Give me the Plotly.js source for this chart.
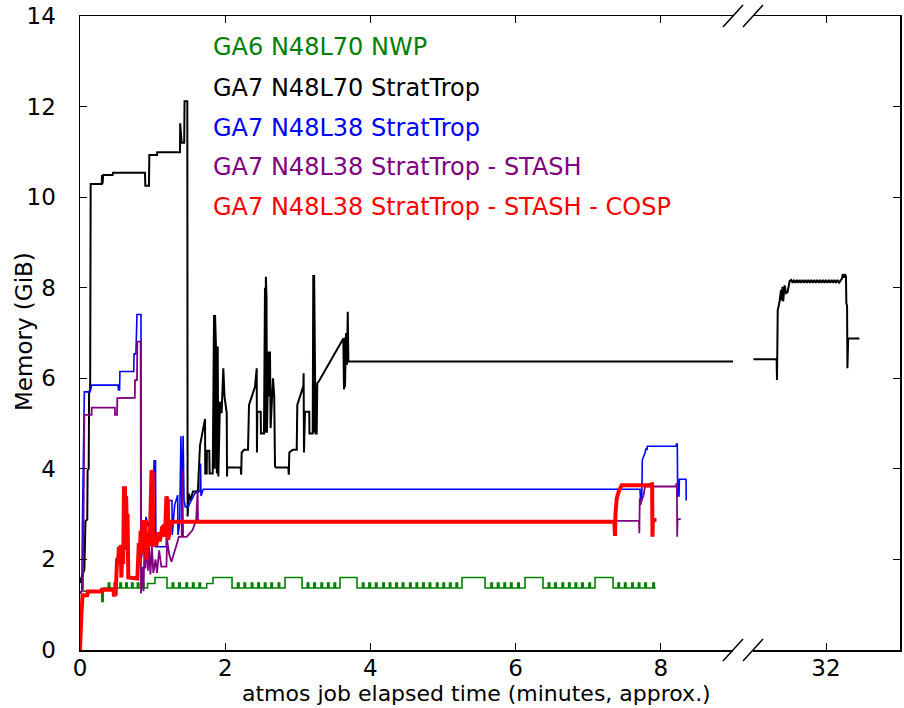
<!DOCTYPE html>
<html>
<head>
<meta charset="utf-8">
<script src="https://cdn.plot.ly/plotly-3.0.1.min.js"></script>
<style>html,body{margin:0;padding:0;background:#fff;}#chart{width:904px;height:708px;}</style>
</head>
<body>
<div id="chart"></div>
<script>
// ---- Data ----
const SERIES_NAMES = ["GA6 N48L70 NWP", "GA7 N48L70 StratTrop", "GA7 N48L38 StratTrop",
  "GA7 N48L38 StratTrop - STASH", "GA7 N48L38 StratTrop - STASH - COSP"];
const SERIES_COLORS = ["#008000", "#000000", "#0000ff", "#800080", "#ff0000"];

const X_TICKS_LEFT = [0, 2, 4, 6, 8];
const X_TICKS_RIGHT = [32];
const Y_TICKS = [0, 2, 4, 6, 8, 10, 12, 14];

// GA6 N48L70 NWP (stepped)
const GREEN_T = [
  0.04, 0.30, 0.32,
  0.39, 0.41, 0.47, 0.49, 0.55, 0.57, 0.63, 0.65, 0.71, 0.73, 0.79, 0.81, 0.86, 0.88,
  0.93, 1.033, 1.198,
  1.27, 1.29, 1.36, 1.38, 1.46, 1.48, 1.55, 1.57, 1.64, 1.66,
  1.745, 1.832, 2.094,
  2.17, 2.19, 2.26, 2.28, 2.36, 2.38, 2.45, 2.47, 2.54, 2.56, 2.63, 2.65, 2.73, 2.75,
  2.824, 3.058,
  3.13, 3.15, 3.22, 3.24, 3.32, 3.34, 3.41, 3.43, 3.50, 3.52,
  3.581, 3.815,
  3.89, 3.91, 3.98, 4.00, 4.07, 4.09, 4.17, 4.19, 4.26, 4.28, 4.35, 4.37, 4.44, 4.46, 4.54, 4.56,
  4.63, 4.65, 4.72, 4.74, 4.81, 4.83, 4.91, 4.93, 5.00, 5.02, 5.09, 5.11, 5.18, 5.20,
  5.262, 5.579,
  5.66, 5.68, 5.75, 5.77, 5.84, 5.86, 5.93, 5.95, 6.03, 6.05,
  6.129, 6.377,
  6.45, 6.47, 6.54, 6.56, 6.64, 6.66, 6.73, 6.75, 6.82, 6.84, 6.91, 6.93, 7.01, 7.03,
  7.094, 7.342,
  7.41, 7.43, 7.50, 7.52, 7.60, 7.62, 7.69, 7.71, 7.78, 7.80, 7.89, 7.91,
  7.93];
const GREEN_Y = [
  1.30, 1.07, 1.37,
  1.48, 1.37, 1.48, 1.37, 1.48, 1.37, 1.48, 1.37, 1.48, 1.37, 1.48, 1.37, 1.48, 1.37,
  1.47, 1.60, 1.37,
  1.48, 1.37, 1.48, 1.37, 1.48, 1.37, 1.48, 1.37, 1.48, 1.37,
  1.47, 1.60, 1.37,
  1.48, 1.37, 1.48, 1.37, 1.48, 1.37, 1.48, 1.37, 1.48, 1.37, 1.48, 1.37, 1.48, 1.37,
  1.60, 1.37,
  1.48, 1.37, 1.48, 1.37, 1.48, 1.37, 1.48, 1.37, 1.48, 1.37,
  1.60, 1.37,
  1.48, 1.37, 1.48, 1.37, 1.48, 1.37, 1.48, 1.37, 1.48, 1.37, 1.48, 1.37, 1.48, 1.37, 1.48, 1.37,
  1.48, 1.37, 1.48, 1.37, 1.48, 1.37, 1.48, 1.37, 1.48, 1.37, 1.48, 1.37, 1.48, 1.37,
  1.60, 1.37,
  1.48, 1.37, 1.48, 1.37, 1.48, 1.37, 1.48, 1.37, 1.48, 1.37,
  1.60, 1.37,
  1.48, 1.37, 1.48, 1.37, 1.48, 1.37, 1.48, 1.37, 1.48, 1.37, 1.48, 1.37, 1.48, 1.37,
  1.60, 1.37,
  1.48, 1.37, 1.48, 1.37, 1.48, 1.37, 1.48, 1.37, 1.48, 1.37, 1.48, 1.37,
  1.37];

// GA7 N48L70 StratTrop, first part (minutes 0-9)
const BLACK_T = [0.00, 0.02, 0.06, 0.075, 0.10, 0.105, 0.12, 0.125, 0.14, 0.147,
  0.30, 0.302, 0.31, 0.32, 0.45, 0.455, 0.895, 0.90, 0.95, 0.955,
  1.06, 1.065, 1.377, 1.38, 1.40, 1.435, 1.44, 1.478, 1.482, 1.50,
  1.52, 1.556, 1.62, 1.625, 1.653, 1.698, 1.722, 1.725, 1.745, 1.748,
  1.781, 1.785, 1.828, 1.846, 1.855, 1.86, 1.873, 1.885, 1.897, 1.905,
  1.928, 1.95, 1.974, 1.99, 2.021, 2.025, 2.029, 2.213, 2.22, 2.227,
  2.259, 2.314, 2.328, 2.41, 2.434, 2.437, 2.442, 2.489, 2.492, 2.534,
  2.548, 2.555, 2.56, 2.569, 2.575, 2.594, 2.60, 2.617, 2.625, 2.64,
  2.658, 2.675, 2.686, 2.70, 2.869, 2.876, 2.883, 2.93, 2.985, 2.993,
  3.076, 3.08, 3.085, 3.099, 3.158, 3.16, 3.205, 3.213, 3.22, 3.225,
  3.237, 3.245, 3.26, 3.268, 3.296, 3.627, 3.636, 3.645, 3.65, 3.664,
  3.678, 3.688, 3.696, 9.02];
const BLACK_Y = [1.48, 1.60, 1.77, 2.85, 2.88, 3.97, 4.00, 5.70, 5.75, 10.29,
  10.29, 10.49, 10.30, 10.49, 10.49, 10.54, 10.54, 10.25, 10.25, 10.93,
  10.93, 10.99, 10.99, 11.63, 11.20, 11.20, 12.12, 12.12, 2.95, 3.45,
  3.30, 3.50, 3.50, 3.55, 4.52, 4.90, 5.10, 3.90, 3.90, 4.40,
  4.40, 3.90, 3.90, 7.40, 4.00, 7.40, 6.70, 3.90, 6.70, 3.83,
  5.48, 5.23, 6.22, 5.60, 5.23, 3.83, 4.03, 4.03, 3.87, 4.36,
  4.42, 4.42, 5.41, 5.81, 6.22, 4.36, 5.26, 5.26, 4.78, 4.78,
  8.00, 4.80, 8.24, 7.80, 4.80, 6.59, 5.60, 6.59, 4.90, 5.59,
  6.00, 5.60, 4.05, 4.03, 4.03, 3.87, 4.36, 4.42, 4.42, 5.41,
  5.83, 6.11, 4.36, 5.26, 5.26, 4.78, 4.78, 8.28, 4.80, 8.28,
  6.50, 4.78, 4.78, 5.89, 5.95, 6.88, 5.75, 6.90, 5.80, 7.00,
  6.30, 7.47, 6.37, 6.37];

// GA7 N48L70 StratTrop, second part (after the axis break, ~31-33 min)
const BLACK_R_T = [31.00, 31.32, 31.325, 31.335, 31.36, 31.38, 31.39, 31.40, 31.41, 31.43, 31.45, 31.47, 31.50,
  31.52, 31.54, 31.56, 31.58, 31.60, 31.62, 31.64, 31.66, 31.68, 31.70, 31.72, 31.74, 31.76, 31.78, 31.80,
  31.82, 31.84, 31.86, 31.88, 31.90, 31.92, 31.94, 31.96, 31.98, 32.00, 32.02, 32.04, 32.06, 32.08, 32.10,
  32.12, 32.14, 32.16, 32.18, 32.20,
  32.22, 32.23, 32.25, 32.26, 32.275, 32.28, 32.29, 32.295, 32.305, 32.46];
const BLACK_R_Y = [6.42, 6.42, 5.96, 7.50, 7.69, 7.95, 7.72, 8.02, 7.70, 8.05, 7.88, 7.90, 8.15,
  8.17, 8.11, 8.17, 8.11, 8.17, 8.11, 8.17, 8.11, 8.17, 8.11, 8.17, 8.11, 8.17, 8.11, 8.17,
  8.11, 8.17, 8.11, 8.17, 8.11, 8.17, 8.11, 8.17, 8.11, 8.17, 8.11, 8.17, 8.11, 8.17, 8.11,
  8.17, 8.11, 8.17, 8.11, 8.17,
  8.20, 8.30, 8.22, 8.30, 8.25, 7.66, 7.60, 6.22, 6.88, 6.88];

// GA7 N48L38 StratTrop
const BLUE_T = [0.00, 0.025, 0.035, 0.06, 0.14, 0.16, 0.525, 0.53, 0.545, 0.55,
  0.74, 0.745, 0.77, 0.785, 0.84, 0.842, 0.88, 0.909, 0.94, 0.964,
  1.006, 1.02, 1.04, 1.045, 1.189, 1.19, 1.22, 1.267, 1.27, 1.304,
  1.345, 1.35, 1.373, 1.39, 1.405, 1.42, 1.433, 1.45, 1.488, 1.533,
  1.58, 1.625, 1.653, 1.66, 1.667, 1.698, 7.713, 7.72, 7.737, 7.745,
  7.759, 7.782, 7.796, 7.81, 7.814, 8.209, 8.215, 8.227, 8.232, 8.25,
  8.255, 8.347, 8.35];
const BLUE_Y = [1.25, 1.30, 3.00, 5.70, 5.70, 5.85, 5.85, 5.74, 5.74, 6.15,
  6.15, 6.54, 6.54, 7.41, 7.41, 2.00, 2.30, 2.94, 2.72, 2.87,
  2.87, 4.18, 4.18, 2.28, 2.28, 3.39, 3.30, 3.30, 2.54, 3.20,
  3.42, 2.54, 2.80, 4.72, 3.00, 4.73, 3.30, 3.16, 3.16, 3.30,
  3.45, 3.50, 3.50, 4.12, 3.40, 3.55, 3.55, 3.31, 3.31, 4.20,
  4.25, 4.35, 4.45, 4.42, 4.50, 4.50, 4.55, 4.55, 3.40, 3.40,
  3.77, 3.77, 3.30];

// GA7 N48L38 StratTrop - STASH
const PURPLE_T = [0.00, 0.04, 0.05, 0.06, 0.16, 0.161, 0.48, 0.482, 0.51, 0.514,
  0.755, 0.758, 0.785, 0.789, 0.835, 0.84, 0.86, 0.875, 0.89, 0.90,
  0.92, 0.935, 0.95, 0.97, 0.99, 1.01, 1.04, 1.06, 1.09, 1.12,
  1.19, 1.20, 1.23, 1.26, 1.35, 1.36, 1.40, 1.41, 1.42, 1.47,
  1.55, 1.60, 1.62, 1.625, 1.65, 7.70, 7.704, 7.71, 7.72, 7.737,
  7.76, 7.782, 8.209, 8.215, 8.222, 8.225, 8.23, 8.274];
const PURPLE_Y = [1.25, 1.35, 3.00, 5.19, 5.19, 5.35, 5.35, 5.19, 5.19, 5.56,
  5.57, 5.96, 5.96, 6.81, 6.81, 1.25, 1.84, 1.30, 2.50, 1.80,
  2.40, 1.75, 2.30, 1.67, 2.30, 1.70, 2.00, 1.70, 2.20, 1.84,
  1.84, 2.43, 2.10, 1.95, 2.43, 2.50, 2.50, 3.97, 2.50, 2.50,
  2.65, 2.87, 3.50, 2.87, 2.85, 2.85, 2.58, 3.35, 3.20, 3.32,
  3.40, 3.61, 3.61, 3.68, 3.65, 2.50, 2.89, 2.89];

// GA7 N48L38 StratTrop - STASH - COSP
const RED_T = [0.00, 0.01, 0.02, 0.035, 0.10, 0.11, 0.29, 0.30, 0.46, 0.47,
  0.48, 0.49, 0.51, 0.53, 0.535, 0.55, 0.56, 0.57, 0.585, 0.595,
  0.605, 0.62, 0.625, 0.635, 0.645, 0.655, 0.665, 0.79, 0.795, 0.81,
  0.82, 0.835, 0.85, 0.865, 0.88, 0.90, 0.915, 0.93, 0.96, 0.97,
  0.985, 1.00, 1.01, 1.03, 1.05, 1.08, 1.10, 1.13, 1.16, 1.17,
  1.19, 1.21, 1.215, 1.24, 1.263, 7.36, 7.369, 7.375, 7.393, 7.42,
  7.461, 7.86, 7.865, 7.875, 7.88, 7.885, 7.89, 7.94];
const RED_Y = [0.00, 0.62, 0.80, 1.21, 1.21, 1.29, 1.29, 1.33, 1.33, 1.18,
  1.30, 1.20, 1.99, 2.05, 2.28, 1.90, 2.32, 1.60, 2.30, 1.90,
  3.57, 3.57, 2.20, 3.40, 2.72, 3.00, 1.60, 1.58, 1.84, 2.36,
  1.90, 2.64, 2.10, 2.87, 2.30, 2.87, 2.00, 2.60, 2.30, 3.60,
  3.97, 3.90, 2.28, 2.50, 2.30, 2.60, 2.40, 2.70, 2.75, 2.50,
  3.39, 3.30, 2.43, 2.70, 2.83, 2.83, 2.52, 3.00, 3.35, 3.50,
  3.64, 3.64, 3.68, 3.66, 3.66, 2.50, 2.87, 2.87];

// ---- Figure ----
const FONT = "DejaVu Sans, Liberation Sans, sans-serif";
function tr(x, y, i, w, xa, ya, shape) {
  return {x: x, y: y, type: "scatter", mode: "lines", name: SERIES_NAMES[i],
    xaxis: xa, yaxis: ya, hoverinfo: "skip",
    line: {color: SERIES_COLORS[i], width: w, shape: shape || "linear"}};
}
const data = [
  tr(GREEN_T, GREEN_Y, 0, 1.6, "x", "y", "hv"),
  tr(BLACK_T, BLACK_Y, 1, 2, "x", "y"),
  tr(BLACK_R_T, BLACK_R_Y, 1, 2, "x2", "y2"),
  tr(BLUE_T, BLUE_Y, 2, 1.6, "x", "y"),
  tr(PURPLE_T, PURPLE_Y, 3, 1.8, "x", "y"),
  tr(RED_T, RED_Y, 4, 4, "x", "y")
];

const PXW = 820, PXH = 634, L = 80, T0 = 16;
function px(xp) { return (xp - L) / PXW; }
function py(yp) { return (T0 + PXH - yp) / PXH; }

const axCommon = {
  showline: true, linecolor: "#000", linewidth: 1.5,
  ticks: "inside", ticklen: 7, tickwidth: 1, tickcolor: "#000",
  showgrid: false, zeroline: false, fixedrange: true,
  tickfont: {family: FONT, size: 23, color: "#000"}
};

const annotations = SERIES_NAMES.map((n, i) => ({
  text: n, xref: "paper", yref: "paper", x: px(211), y: py([47, 88, 128, 167, 207][i]),
  xanchor: "left", yanchor: "middle", showarrow: false,
  font: {family: FONT, size: 24, color: SERIES_COLORS[i]}
}));
annotations.push({
  text: "atmos job elapsed time (minutes, approx.)", xref: "paper", yref: "paper",
  x: px(476), y: py(693), xanchor: "center", yanchor: "middle", showarrow: false,
  font: {family: FONT, size: 22, color: "#000"}
});
annotations.push({
  text: "Memory (GiB)", xref: "paper", yref: "paper", textangle: -90,
  x: px(24), y: py(331), xanchor: "center", yanchor: "middle", showarrow: false,
  font: {family: FONT, size: 23, color: "#000"}
});

function slash(cx, cy) {
  return {type: "line", xref: "paper", yref: "paper",
    x0: px(cx - 10), y0: py(cy + 11), x1: px(cx + 10), y1: py(cy - 11),
    line: {color: "#000", width: 1.5}};
}
const shapes = [slash(733, 16), slash(753, 16), slash(733, 650), slash(753, 650)];

const layout = {
  width: 904, height: 708,
  margin: {l: 80, r: 4, t: 16, b: 58},
  paper_bgcolor: "#fff", plot_bgcolor: "#fff",
  showlegend: false,
  font: {family: FONT, color: "#000"},
  xaxis: Object.assign({}, axCommon, {
    domain: [0, px(733)], range: [0, 8.994], anchor: "y",
    tickmode: "array", tickvals: X_TICKS_LEFT, mirror: "ticks", ticklabelstandoff: -3
  }),
  xaxis2: Object.assign({}, axCommon, {
    domain: [px(753), 1], range: [30.9945, 33.019], anchor: "y2",
    tickmode: "array", tickvals: X_TICKS_RIGHT, mirror: "ticks", ticklabelstandoff: -3
  }),
  yaxis: Object.assign({}, axCommon, {
    domain: [0, 1], range: [0, 14], anchor: "x", side: "left",
    tickmode: "array", tickvals: Y_TICKS, ticklabelstandoff: 18
  }),
  yaxis2: Object.assign({}, axCommon, {
    domain: [0, 1], range: [0, 14], anchor: "x2", side: "right", matches: "y",
    tickmode: "array", tickvals: Y_TICKS, showticklabels: false
  }),
  annotations: annotations,
  shapes: shapes
};

Plotly.newPlot("chart", data, layout, {staticPlot: true, displayModeBar: false});
</script>
</body>
</html>
